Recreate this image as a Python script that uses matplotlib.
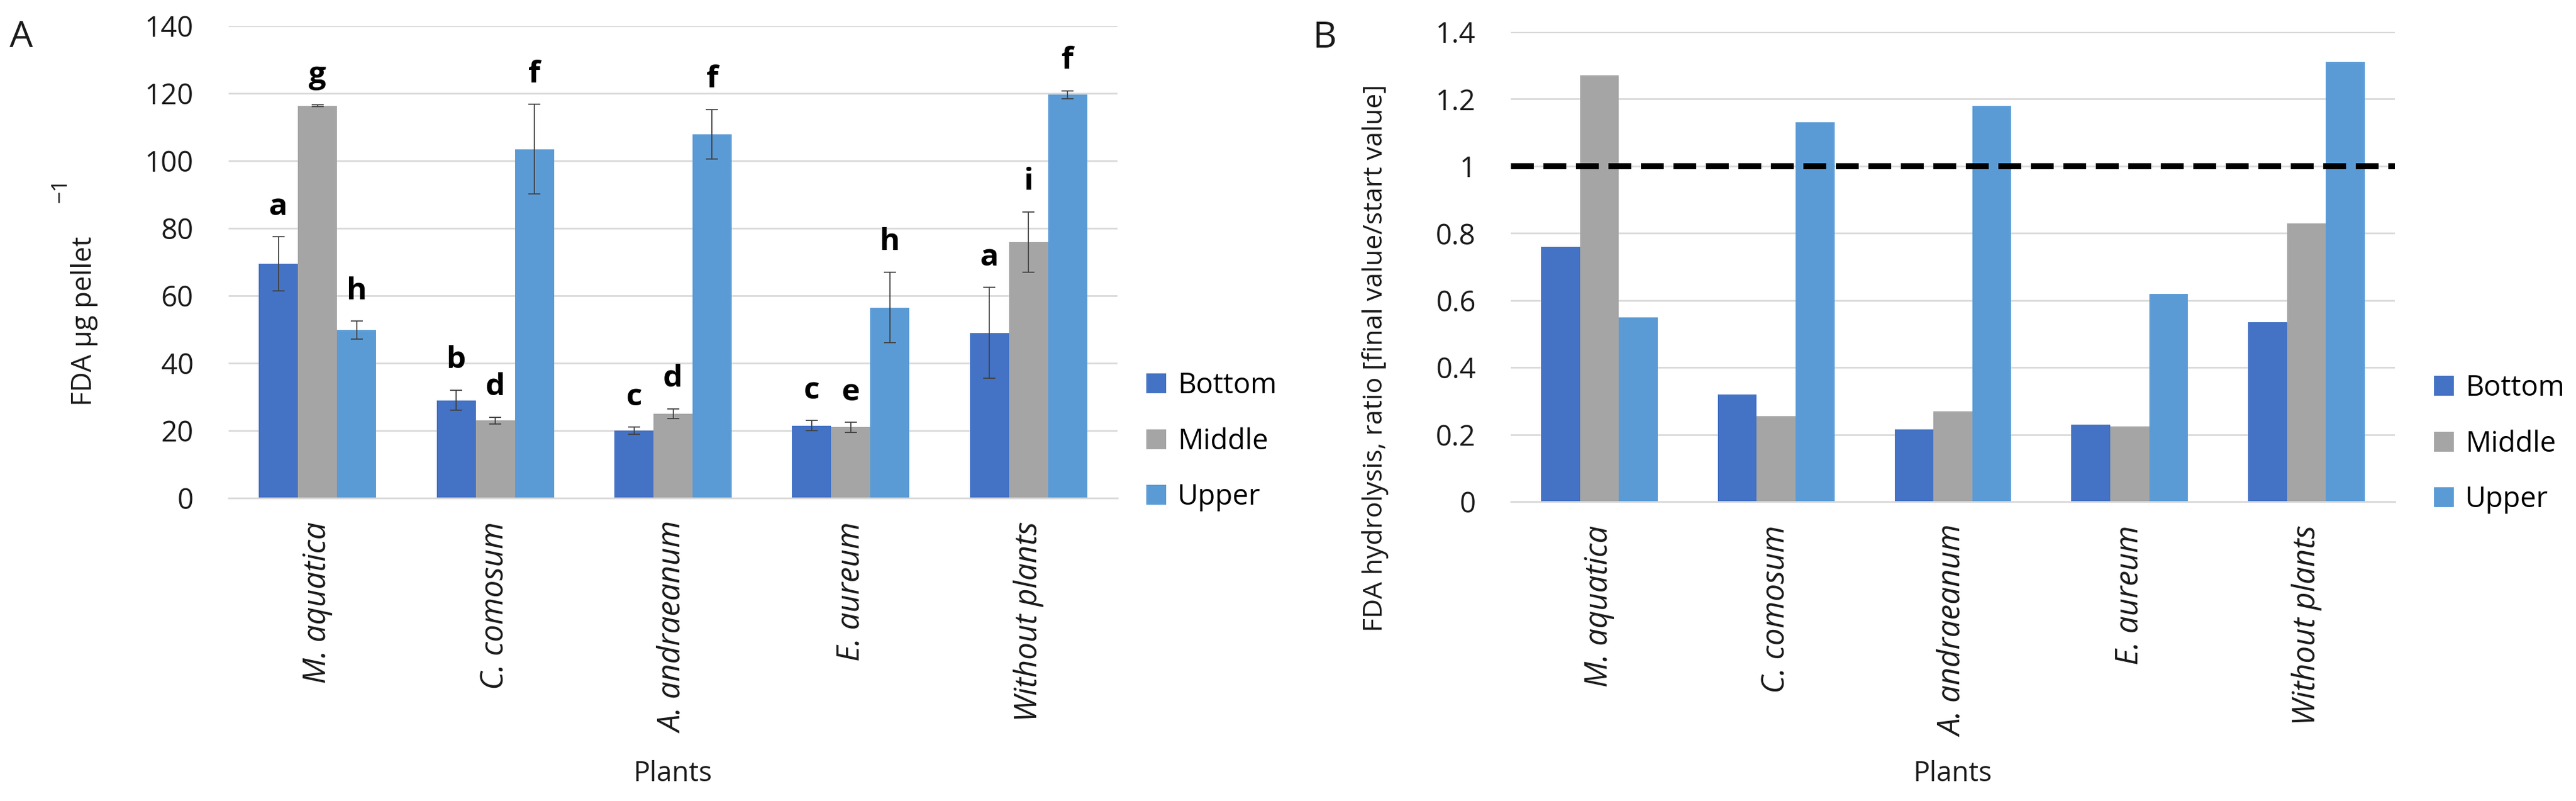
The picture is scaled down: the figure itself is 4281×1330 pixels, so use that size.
import numpy as np
import matplotlib.pyplot as plt

plt.rcParams['font.family'] = ['Open Sans', 'DejaVu Sans']

plants = ['M. aquatica', 'C. comosum', 'A. andraeanum', 'E. aureum', 'Without plants']
layers = ['Bottom', 'Middle', 'Upper']
colors = ['#4472C4', '#A5A5A5', '#5B9BD5']

# A: FDA ug pellet^-1 (mean +- error)
fda_bottom = [69.5, 29.0, 20.0, 21.5, 49.0]
fda_middle = [116.3, 23.0, 25.0, 21.0, 75.9]
fda_upper = [49.8, 103.4, 107.9, 56.5, 119.6]
err_bottom = [8.0, 3.0, 1.0, 1.5, 13.5]
err_middle = [0.3, 1.0, 1.5, 1.5, 9.0]
err_upper = [2.7, 13.3, 7.3, 10.5, 1.2]
let_bottom = ['a', 'b', 'c', 'c', 'a']
let_middle = ['g', 'd', 'd', 'e', 'i']
let_upper = ['h', 'f', 'f', 'h', 'f']

# B: ratio final value / start value
ratio_bottom = [0.76, 0.32, 0.215, 0.23, 0.535]
ratio_middle = [1.27, 0.255, 0.27, 0.225, 0.83]
ratio_upper = [0.55, 1.13, 1.18, 0.62, 1.31]

W, H = 4281, 1330
fig = plt.figure(figsize=(W / 100, H / 100), dpi=100)

def px_ax(x0, x1, y0, y1):
    # pixel box -> figure fraction
    return [x0 / W, 1 - y1 / H, (x1 - x0) / W, (y1 - y0) / H]

axA = fig.add_axes(px_ax(380, 1857, 43, 827))
axB = fig.add_axes(px_ax(2511, 3980, 53, 833))

x = np.arange(len(plants))
bw = 0.22
grid_c = '#D9D9D9'
txt_c = '#1a1a1a'


def style(ax):
    ax.set_axisbelow(True)
    ax.yaxis.grid(True, color=grid_c, lw=2)
    for s in ['top', 'right', 'left']:
        ax.spines[s].set_visible(False)
    ax.spines['bottom'].set_color(grid_c)
    ax.spines['bottom'].set_linewidth(2)
    ax.set_xlim(-0.5, len(plants) - 0.5)
    ax.set_xticks(x)
    ax.set_xticklabels(plants, rotation=90, style='italic', fontsize=37,
                       ha='center', va='top', color=txt_c)
    ax.tick_params(axis='x', length=0, pad=28)
    ax.tick_params(axis='y', length=0, pad=42, labelsize=34, labelcolor=txt_c)


# ---- panel A ----
series_a = [(fda_bottom, err_bottom, let_bottom),
            (fda_middle, err_middle, let_middle),
            (fda_upper, err_upper, let_upper)]
for i, (vals, errs, lets) in enumerate(series_a):
    pos = x + (i - 1) * bw
    axA.bar(pos, vals, bw, color=colors[i], label=layers[i])
    axA.errorbar(pos, vals, yerr=errs, fmt='none', ecolor='#404040',
                 elinewidth=1.3, capsize=7, capthick=1.3)
    for p, v, e, l in zip(pos, vals, errs, lets):
        axA.text(p, v + e + 6.5, l, ha='center', va='baseline',
                 fontsize=37, fontweight='bold', color='black')

axA.set_ylim(0, 140)
axA.set_yticks(np.arange(0, 141, 20))
style(axA)

axA.legend(loc='center left', bbox_to_anchor=(1905 / W, 1 - 733 / H),
           bbox_transform=fig.transFigure, frameon=False, fontsize=34,
           handlelength=0.7, handleheight=0.7, handletextpad=0.4,
           labelspacing=0.95, borderpad=0, borderaxespad=0)

fig.text(140 / W, 1 - 533 / H, 'FDA µg pellet', rotation=90, ha='center',
         va='center', fontsize=33, color=txt_c)
fig.text(101 / W, 1 - 316 / H, '\u22121', rotation=90, ha='center',
         va='center', fontsize=26, color=txt_c)
fig.text(1118 / W, 1 - 1285 / H, 'Plants', ha='center', va='center',
         fontsize=33, color=txt_c)
fig.text(35 / W, 1 - 62 / H, 'A', ha='center', va='center', fontsize=44,
         color=txt_c)

# ---- panel B ----
series_b = [ratio_bottom, ratio_middle, ratio_upper]
for i, vals in enumerate(series_b):
    axB.bar(x + (i - 1) * bw, vals, bw, color=colors[i], label=layers[i])

axB.axhline(1, color='black', lw=7.2, linestyle=(0, (3.8, 1.6)), zorder=3)
axB.set_ylim(0, 1.4)
axB.set_yticks(np.arange(0, 1.41, 0.2))
axB.set_yticklabels(['0', '0.2', '0.4', '0.6', '0.8', '1', '1.2', '1.4'])
style(axB)

axB.legend(loc='center left', bbox_to_anchor=(4045 / W, 1 - 737 / H),
           bbox_transform=fig.transFigure, frameon=False, fontsize=34,
           handlelength=0.7, handleheight=0.7, handletextpad=0.4,
           labelspacing=0.95, borderpad=0, borderaxespad=0)

# long title: top end sits just below the 1.4 row, as in the reference
fig.text(2286 / W, 1 - 140 / H, 'FDA hydrolysis, ratio [final value/start value]',
         rotation=90, ha='center', va='top', fontsize=32, color=txt_c)
fig.text(3245 / W, 1 - 1285 / H, 'Plants', ha='center', va='center',
         fontsize=33, color=txt_c)
fig.text(2202 / W, 1 - 63 / H, 'B', ha='center', va='center', fontsize=44,
         color=txt_c)

fig.savefig('out.png', dpi=100, facecolor='white')
